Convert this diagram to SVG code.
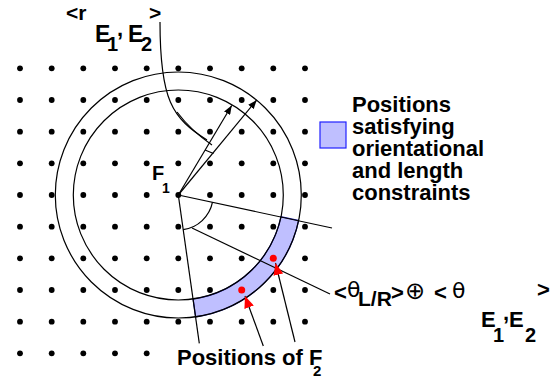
<svg xmlns="http://www.w3.org/2000/svg" width="558" height="377" viewBox="0 0 558 377">
<defs>
<style>
.d{fill:#000}
.rd{fill:#ff0000}
.ln{fill:none;stroke:#000;stroke-width:1.2}
.t{font-family:"Liberation Sans",Arial,sans-serif;font-weight:bold;fill:#000}
.g{font-family:"DejaVu Sans",sans-serif;fill:#000}
</style>
<marker id="ah" markerUnits="userSpaceOnUse" markerWidth="9" markerHeight="7" refX="9" refY="3.5" orient="auto"><path d="M0,0 L9,3.5 L0,7 Z" fill="#000"/></marker>
<marker id="rh" markerUnits="userSpaceOnUse" markerWidth="12" markerHeight="10" refX="12" refY="5" orient="auto"><path d="M0,0 L12,5 L0,10 Z" fill="#ff0000"/></marker>
</defs>
<rect width="558" height="377" fill="#fff"/>

<g id="grid">
<circle class="d" cx="20" cy="68.3" r="2.9"/><circle class="d" cx="51.7" cy="68.3" r="2.9"/><circle class="d" cx="83.3" cy="68.3" r="2.9"/><circle class="d" cx="115" cy="68.3" r="2.9"/><circle class="d" cx="146.7" cy="68.3" r="2.9"/><circle class="d" cx="178.3" cy="68.3" r="2.9"/><circle class="d" cx="210" cy="68.3" r="2.9"/><circle class="d" cx="241.7" cy="68.3" r="2.9"/><circle class="d" cx="273.3" cy="68.3" r="2.9"/><circle class="d" cx="305" cy="68.3" r="2.9"/>
<circle class="d" cx="20" cy="100" r="2.9"/><circle class="d" cx="51.7" cy="100" r="2.9"/><circle class="d" cx="83.3" cy="100" r="2.9"/><circle class="d" cx="115" cy="100" r="2.9"/><circle class="d" cx="146.7" cy="100" r="2.9"/><circle class="d" cx="178.3" cy="100" r="2.9"/><circle class="d" cx="210" cy="100" r="2.9"/><circle class="d" cx="241.7" cy="100" r="2.9"/><circle class="d" cx="273.3" cy="100" r="2.9"/><circle class="d" cx="305" cy="100" r="2.9"/>
<circle class="d" cx="20" cy="131.7" r="2.9"/><circle class="d" cx="51.7" cy="131.7" r="2.9"/><circle class="d" cx="83.3" cy="131.7" r="2.9"/><circle class="d" cx="115" cy="131.7" r="2.9"/><circle class="d" cx="146.7" cy="131.7" r="2.9"/><circle class="d" cx="178.3" cy="131.7" r="2.9"/><circle class="d" cx="210" cy="131.7" r="2.9"/><circle class="d" cx="241.7" cy="131.7" r="2.9"/><circle class="d" cx="273.3" cy="131.7" r="2.9"/><circle class="d" cx="305" cy="131.7" r="2.9"/>
<circle class="d" cx="20" cy="163.3" r="2.9"/><circle class="d" cx="51.7" cy="163.3" r="2.9"/><circle class="d" cx="83.3" cy="163.3" r="2.9"/><circle class="d" cx="115" cy="163.3" r="2.9"/><circle class="d" cx="146.7" cy="163.3" r="2.9"/><circle class="d" cx="178.3" cy="163.3" r="2.9"/><circle class="d" cx="210" cy="163.3" r="2.9"/><circle class="d" cx="241.7" cy="163.3" r="2.9"/><circle class="d" cx="273.3" cy="163.3" r="2.9"/><circle class="d" cx="305" cy="163.3" r="2.9"/>
<circle class="d" cx="20" cy="195" r="2.9"/><circle class="d" cx="51.7" cy="195" r="2.9"/><circle class="d" cx="83.3" cy="195" r="2.9"/><circle class="d" cx="115" cy="195" r="2.9"/><circle class="d" cx="146.7" cy="195" r="2.9"/><circle class="d" cx="210" cy="195" r="2.9"/><circle class="d" cx="241.7" cy="195" r="2.9"/><circle class="d" cx="273.3" cy="195" r="2.9"/><circle class="d" cx="305" cy="195" r="2.9"/>
<circle class="d" cx="20" cy="226.7" r="2.9"/><circle class="d" cx="51.7" cy="226.7" r="2.9"/><circle class="d" cx="83.3" cy="226.7" r="2.9"/><circle class="d" cx="115" cy="226.7" r="2.9"/><circle class="d" cx="146.7" cy="226.7" r="2.9"/><circle class="d" cx="178.3" cy="226.7" r="2.9"/><circle class="d" cx="210" cy="226.7" r="2.9"/><circle class="d" cx="241.7" cy="226.7" r="2.9"/><circle class="d" cx="273.3" cy="226.7" r="2.9"/><circle class="d" cx="305" cy="226.7" r="2.9"/>
<circle class="d" cx="20" cy="258.3" r="2.9"/><circle class="d" cx="51.7" cy="258.3" r="2.9"/><circle class="d" cx="83.3" cy="258.3" r="2.9"/><circle class="d" cx="115" cy="258.3" r="2.9"/><circle class="d" cx="146.7" cy="258.3" r="2.9"/><circle class="d" cx="178.3" cy="258.3" r="2.9"/><circle class="d" cx="210" cy="258.3" r="2.9"/><circle class="d" cx="241.7" cy="258.3" r="2.9"/><circle class="d" cx="305" cy="258.3" r="2.9"/>
<circle class="d" cx="20" cy="290" r="2.9"/><circle class="d" cx="51.7" cy="290" r="2.9"/><circle class="d" cx="83.3" cy="290" r="2.9"/><circle class="d" cx="115" cy="290" r="2.9"/><circle class="d" cx="146.7" cy="290" r="2.9"/><circle class="d" cx="178.3" cy="290" r="2.9"/><circle class="d" cx="210" cy="290" r="2.9"/><circle class="d" cx="273.3" cy="290" r="2.9"/><circle class="d" cx="305" cy="290" r="2.9"/>
<circle class="d" cx="20" cy="321.7" r="2.9"/><circle class="d" cx="51.7" cy="321.7" r="2.9"/><circle class="d" cx="83.3" cy="321.7" r="2.9"/><circle class="d" cx="115" cy="321.7" r="2.9"/><circle class="d" cx="146.7" cy="321.7" r="2.9"/><circle class="d" cx="178.3" cy="321.7" r="2.9"/><circle class="d" cx="210" cy="321.7" r="2.9"/><circle class="d" cx="241.7" cy="321.7" r="2.9"/><circle class="d" cx="273.3" cy="321.7" r="2.9"/><circle class="d" cx="305" cy="321.7" r="2.9"/>
<circle class="d" cx="20" cy="353.3" r="2.9"/><circle class="d" cx="51.7" cy="353.3" r="2.9"/><circle class="d" cx="83.3" cy="353.3" r="2.9"/><circle class="d" cx="115" cy="353.3" r="2.9"/><circle class="d" cx="146.7" cy="353.3" r="2.9"/>
</g>

<g id="band">
<path d="M298.7,220.4 A123,123 0 0 1 195.6,316.8 L193.1,299 A105,105 0 0 0 281,216.7 Z" fill="#bfbfff" stroke="#1a1a99" stroke-width="1.2"/>
</g>

<g id="circles">
<circle class="ln" cx="178.3" cy="195" r="105"/>
<circle class="ln" cx="178.3" cy="195" r="123"/>
</g>

<g id="connectors">
<path class="ln" d="M160,22 C160,100 172,118 207,140"/>
<path class="ln" d="M177,112 C186,124 196,134 212,145"/>
<path class="ln" d="M205,150 L213.5,153.5"/>
<path class="ln" d="M178.3,195 L231.7,105.5" marker-end="url(#ah)"/>
<path class="ln" d="M178.3,195 L256.7,100" marker-end="url(#ah)"/>
<path class="ln" d="M178.3,195 L332,228"/>
<path class="ln" d="M178.3,195 L199.3,343.3"/>
<path class="ln" d="M212.5,202.2 A35,35 0 0 1 183.2,229.7"/>
<path class="ln" d="M192,228 L330,294"/>
<path class="ln" d="M263.3,346 L245,296" marker-end="url(#rh)"/>
<path class="ln" d="M295,342 L275.5,263" marker-end="url(#rh)"/>
</g>

<g id="F2-positions">
<circle class="rd" cx="273.3" cy="258.3" r="3.5"/>
<circle class="rd" cx="241.7" cy="290" r="3.5"/>
</g>

<g id="F1">
<circle class="d" cx="178.3" cy="195" r="2.9"/>
<text class="t" x="152" y="180" font-size="20">F</text>
<text class="t" x="162" y="193" font-size="14">1</text>
</g>

<g id="label-r">
<text class="t" x="66" y="20" font-size="21">&lt;r</text>
<text class="t" x="95" y="42" font-size="23">E</text>
<text class="t" x="107" y="51" font-size="20">1</text>
<text class="t" x="117" y="36" font-size="22">,</text>
<text class="t" x="128" y="42" font-size="23">E</text>
<text class="t" x="141" y="51" font-size="20">2</text>
<text class="t" x="149" y="20" font-size="21">&gt;</text>
</g>

<g id="legend">
<rect x="320" y="122" width="26" height="26" fill="#bfbfff" stroke="#2020ff" stroke-width="1.2"/>
<text class="t" font-size="22" x="352"><tspan x="352" y="112">Positions</tspan><tspan x="352" y="134">satisfying</tspan><tspan x="352" y="156">orientational</tspan><tspan x="352" y="178">and length</tspan><tspan x="352" y="200">constraints</tspan></text>
</g>

<g id="label-theta">
<text class="t" x="334" y="300" font-size="22">&lt;</text>
<text class="g" x="347" y="297" font-size="22">θ</text>
<text class="t" x="358" y="306" font-size="21">L/R</text>
<text class="t" x="391" y="300" font-size="22">&gt;</text>
<text class="g" x="405" y="299" font-size="24">⊕</text>
<text class="t" x="434" y="300" font-size="22">&lt;</text>
<text class="g" x="452" y="298" font-size="22">θ</text>
<text class="t" x="481" y="327" font-size="22">E</text>
<text class="t" x="493" y="342" font-size="20">1</text>
<text class="t" x="503" y="320" font-size="22">,</text>
<text class="t" x="509" y="327" font-size="22">E</text>
<text class="t" x="525" y="342" font-size="20">2</text>
<text class="t" x="537" y="297" font-size="22">&gt;</text>
</g>

<g id="label-F2">
<text class="t" x="177" y="365" font-size="22">Positions of F</text>
<text class="t" x="313" y="376" font-size="15">2</text>
</g>
</svg>
